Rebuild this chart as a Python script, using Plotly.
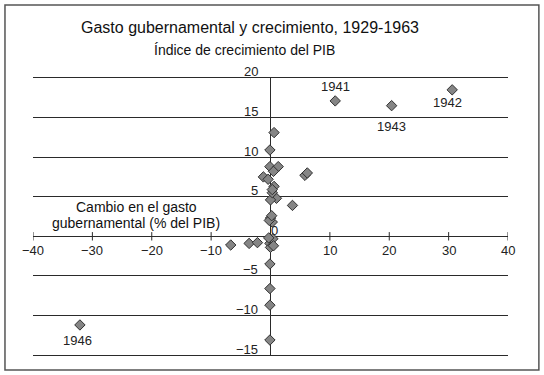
import plotly.graph_objects as go

# ---------------- data ----------------
gasto = [0.6, -0.1, -0.1, 1.3, 0.5, -1.2, -0.4, 0.6, 5.8, 6.2, 1.0, 0.0, 0.3, 3.7,
         0.0, 0.3, -0.2, 0.2, -6.7, -3.6, -2.2, -0.1, 0.4, 0.0, -0.3, 0.5,
         -0.1, -0.1, -0.1, -0.1, 0.3]
crecimiento = [13.1, 10.9, 8.8, 8.8, 8.2, 7.5, 7.2, 6.3, 7.7, 8.0, 4.8, 4.6, 5.5, 3.9,
               2.3, 1.8, 2.0, 2.6, -1.1, -0.9, -0.8, -0.9, -0.3, -1.4, -0.2, -1.2,
               -3.5, -6.6, -8.7, -13.1, 5.9]

years = ["1941", "1942", "1943", "1946"]
years_gasto = [10.9, 30.6, 20.4, -32.1]
years_crec = [17.1, 18.5, 16.5, -11.2]

x_ticks = [-40, -30, -20, -10, 10, 20, 30, 40]
y_ticks = [20, 15, 10, 5, 0, -5, -10, -15]

title = "Gasto gubernamental y crecimiento, 1929-1963"
y_title = "Índice de crecimiento del PIB"
x_title_lines = ["Cambio en el gasto", "gubernamental (% del PIB)"]

# label offsets (pixels) for year labels: (xshift, yshift)
year_offsets = {"1941": (0, 14), "1942": (-5, -13), "1943": (0, -21), "1946": (-2, -16)}

FONT = "Liberation Sans, Arial, sans-serif"
LINE = "#2a2a2a"

def fmt(v):
    return str(v).replace("-", "\u2212")

fig = go.Figure()

# x-axis tick marks on the zero line
fig.add_trace(go.Scatter(
    x=x_ticks, y=[0] * len(x_ticks), mode="markers",
    marker=dict(symbol="line-ns", size=6, line=dict(width=1, color=LINE)),
    hoverinfo="skip", showlegend=False))

# all points
fig.add_trace(go.Scatter(
    x=gasto + years_gasto, y=crecimiento + years_crec, mode="markers",
    marker=dict(symbol="diamond", size=8, color="#858585",
                line=dict(width=1, color="#303030")),
    showlegend=False))

ann = []
for v in x_ticks:
    ann.append(dict(x=v, y=0, xref="x", yref="y", text=fmt(v), showarrow=False,
                    xanchor="center", yanchor="middle", yshift=-14,
                    font=dict(size=13, color="#222")))
for v in y_ticks:
    if v == 0:
        ann.append(dict(x=v, y=v, xref="x", yref="y", text=fmt(v), showarrow=False,
                        xanchor="center", yanchor="middle", xshift=4, yshift=6,
                        font=dict(size=13, color="#222")))
    else:
        ann.append(dict(x=0, y=v, xref="x", yref="y", text=fmt(v), showarrow=False,
                        xanchor="right", yanchor="middle", xshift=-11, yshift=6,
                        font=dict(size=13, color="#222")))
for yr, gx, gy in zip(years, years_gasto, years_crec):
    dx, dy = year_offsets[yr]
    ann.append(dict(x=gx, y=gy, xref="x", yref="y", text=yr, showarrow=False,
                    xanchor="center", yanchor="middle", xshift=dx, yshift=dy,
                    font=dict(size=13, color="#222")))

# y title (top, centered)
ann.append(dict(x=0.446, y=1.084, xref="paper", yref="paper", text=y_title,
                showarrow=False, xanchor="center", yanchor="middle",
                font=dict(size=14, color="#111")))
# x title (left, two lines)
for i, line in enumerate(x_title_lines):
    ann.append(dict(x=0.217, y=0, xref="paper", yref="y", text=line,
                    showarrow=False, xanchor="center", yanchor="middle",
                    yshift=29 - 16 * i,
                    font=dict(size=14, color="#111")))

ymin, ymax = min(y_ticks), max(y_ticks)
pad = 0.5

fig.update_layout(
    width=544, height=375,
    margin=dict(l=33, r=36, t=74, b=16),
    paper_bgcolor="white", plot_bgcolor="white",
    font=dict(family=FONT, color="#222"),
    title=dict(text=title, x=250 / 544, xanchor="center",
               y=1 - 27 / 375, yanchor="middle",
               font=dict(size=16, color="#111", family=FONT)),
    xaxis=dict(range=[-40, 40], showgrid=False, zeroline=False,
               showticklabels=False, ticks="", fixedrange=True),
    yaxis=dict(range=[ymin - pad, ymax + pad], dtick=5, tick0=0, showgrid=True,
               gridcolor=LINE, gridwidth=1, zeroline=True,
               zerolinecolor=LINE, zerolinewidth=1,
               showticklabels=False, ticks="", fixedrange=True),
    annotations=ann,
    shapes=[
        # vertical axis through x = 0
        dict(type="line", xref="x", yref="y", x0=0, x1=0, y0=ymin, y1=ymax,
             line=dict(color=LINE, width=1), layer="below"),
        # outer frame
        dict(type="rect", xref="paper", yref="paper",
             x0=-0.059, x1=1.065, y0=-0.0386, y1=1.242,
             line=dict(color="#555", width=1.5)),
    ],
)

fig.write_html("out.html", config={"displayModeBar": False},
               post_script="document.body.style.margin='0';document.body.style.overflow='hidden';")
